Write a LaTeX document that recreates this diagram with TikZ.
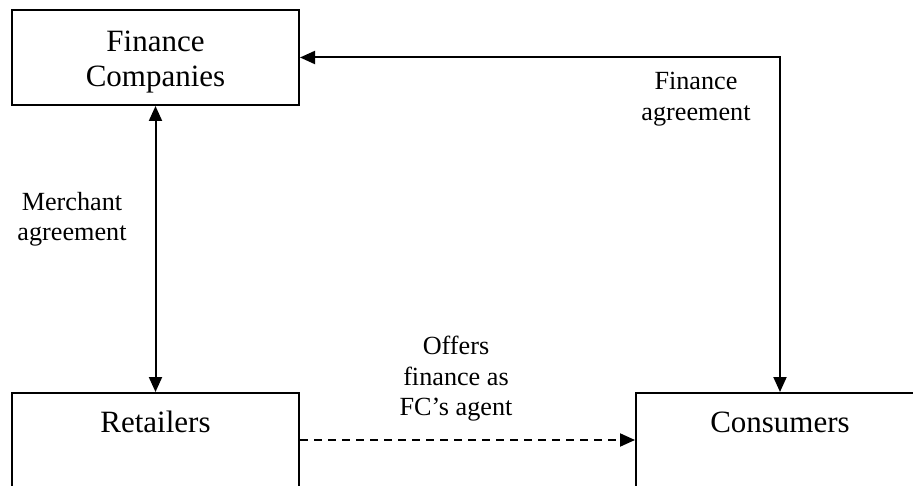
\documentclass[tikz,border=0pt]{standalone}
\usepackage{fontspec}
\setmainfont{Liberation Serif}
\usetikzlibrary{arrows.meta}
\begin{document}
\begin{tikzpicture}[x=1pt,y=-1pt,
  box/.style={draw, line width=2pt, minimum width=287pt, minimum height=95pt, inner sep=0pt},
  boxtext/.style={font=\fontsize{31}{35}\selectfont, align=center, inner sep=0pt},
  lbl/.style={font=\fontsize{26.2}{30.5}\selectfont, align=center, inner sep=0pt},
  tip/.tip={Triangle[length=15pt,width=13pt]},
  conn/.style={line width=2pt, tip-tip},
  dashconn/.style={line width=2pt, dash pattern=on 8pt off 6pt, -tip}
]
\useasboundingbox (0,0) rectangle (913,486);
\clip (0,0) rectangle (913,486);

% boxes
\node[box] (fc) at (155.5,57.5) {};
\node[box, minimum height=110pt] (ret) at (155.5,448) {};
\node[box, minimum width=288pt, minimum height=110pt] (con) at (780,448) {};

% box texts
\node[boxtext] (fct) at (155.5,62.5) {Finance\\Companies};
\node[boxtext, anchor=base] (rett) at (155.5,432) {Retailers};
\node[boxtext, anchor=base] (cont) at (780,432) {Consumers};

% labels
\node[lbl] (merch) at (72,219) {Merchant\\agreement};
\node[lbl] (fin) at (696,99) {Finance\\agreement};
\node[lbl] (offer) at (456,378.7) {Offers\\finance as\\FC’s agent};

% connectors
\draw[conn] (fc.south) -- (ret.north);
\draw[conn] (fc.east) -| (con.north);
\draw[dashconn] ([yshift=-48pt]ret.north east) -- ([yshift=-48pt]con.north west);
\end{tikzpicture}
\end{document}
